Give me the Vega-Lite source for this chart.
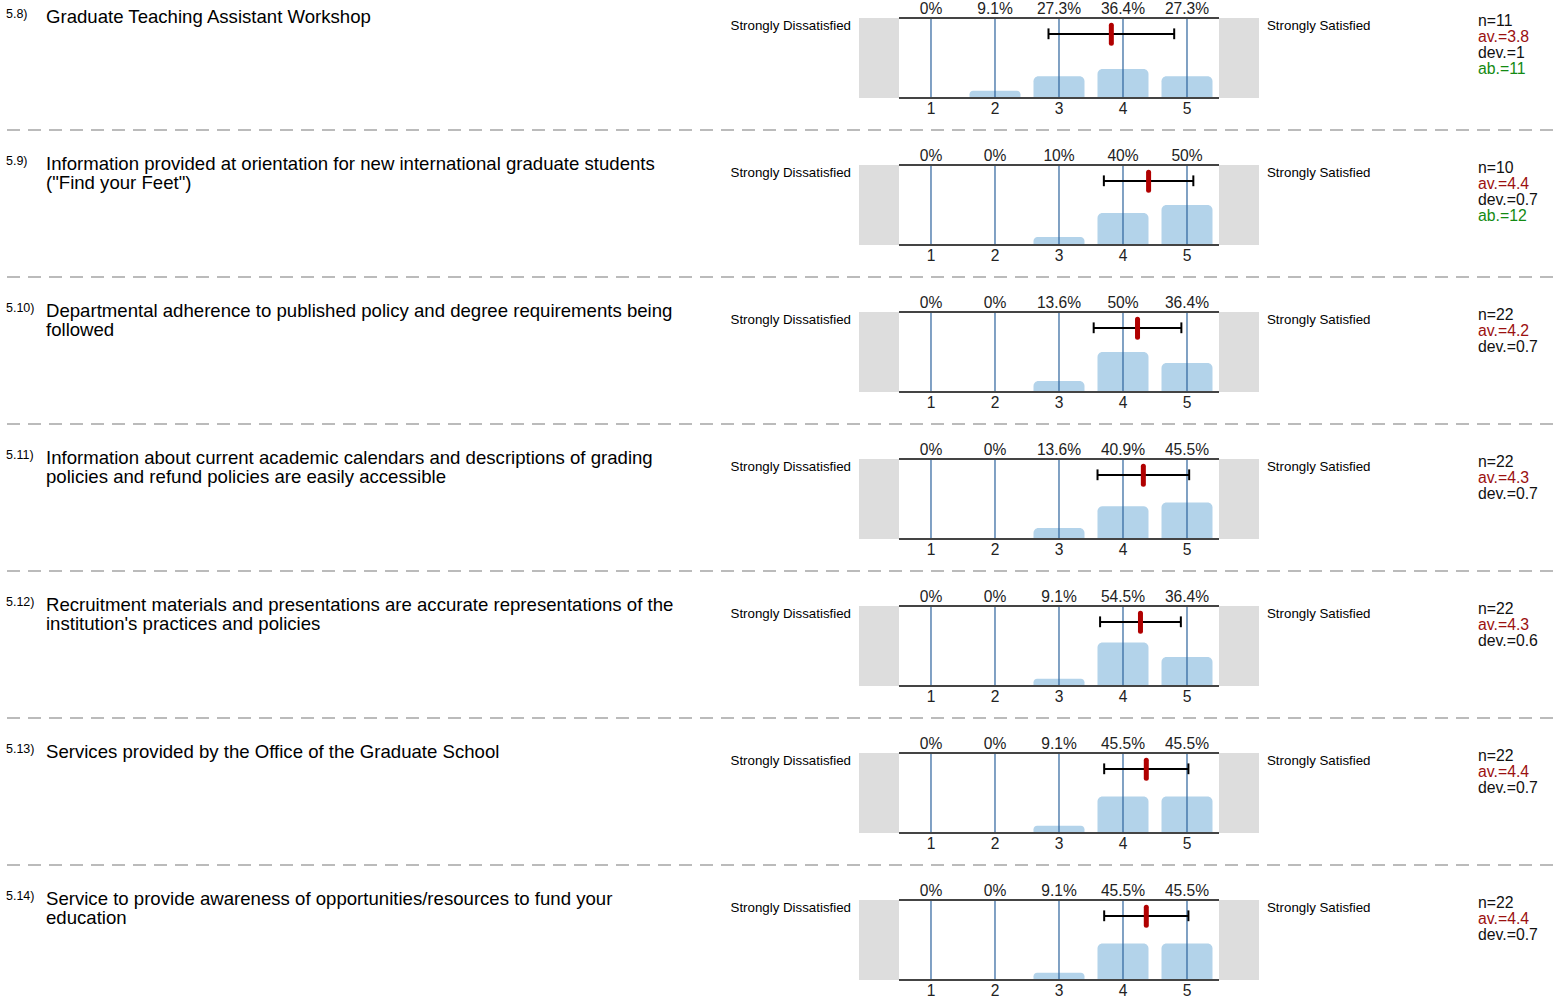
{
  "$schema": "https://vega.github.io/schema/vega-lite/v6.json",
  "padding": 0,
  "bounds": "flush",
  "background": "white",
  "config": {
    "view": {"stroke": null},
    "facet": {"spacing": 0},
    "text": {"font": "Liberation Sans", "color": "#000000"}
  },
  "data": {
    "values": [
      {"r": 1, "kind": "q", "num": "5.8)", "question": ["Graduate Teaching Assistant Workshop"], "nlab": "n=11", "avlab": "av.=3.8", "devlab": "dev.=1", "ablab": "ab.=11", "av": 3.818, "lo": 2.836, "hi": 4.8},
      {"r": 1, "kind": "bar", "x": 1, "pct": 0, "lab": "0%"},
      {"r": 1, "kind": "bar", "x": 2, "pct": 9.1, "lab": "9.1%"},
      {"r": 1, "kind": "bar", "x": 3, "pct": 27.3, "lab": "27.3%"},
      {"r": 1, "kind": "bar", "x": 4, "pct": 36.4, "lab": "36.4%"},
      {"r": 1, "kind": "bar", "x": 5, "pct": 27.3, "lab": "27.3%"},

      {"r": 2, "kind": "q", "num": "5.9)", "question": ["Information provided at orientation for new international graduate students", "(\"Find your Feet\")"], "nlab": "n=10", "avlab": "av.=4.4", "devlab": "dev.=0.7", "ablab": "ab.=12", "av": 4.4, "lo": 3.701, "hi": 5.099},
      {"r": 2, "kind": "bar", "x": 1, "pct": 0, "lab": "0%"},
      {"r": 2, "kind": "bar", "x": 2, "pct": 0, "lab": "0%"},
      {"r": 2, "kind": "bar", "x": 3, "pct": 10, "lab": "10%"},
      {"r": 2, "kind": "bar", "x": 4, "pct": 40, "lab": "40%"},
      {"r": 2, "kind": "bar", "x": 5, "pct": 50, "lab": "50%"},

      {"r": 3, "kind": "q", "num": "5.10)", "question": ["Departmental adherence to published policy and degree requirements being", "followed"], "nlab": "n=22", "avlab": "av.=4.2", "devlab": "dev.=0.7", "ablab": "", "av": 4.227, "lo": 3.542, "hi": 4.912},
      {"r": 3, "kind": "bar", "x": 1, "pct": 0, "lab": "0%"},
      {"r": 3, "kind": "bar", "x": 2, "pct": 0, "lab": "0%"},
      {"r": 3, "kind": "bar", "x": 3, "pct": 13.6, "lab": "13.6%"},
      {"r": 3, "kind": "bar", "x": 4, "pct": 50, "lab": "50%"},
      {"r": 3, "kind": "bar", "x": 5, "pct": 36.4, "lab": "36.4%"},

      {"r": 4, "kind": "q", "num": "5.11)", "question": ["Information about current academic calendars and descriptions of grading", "policies and refund policies are easily accessible"], "nlab": "n=22", "avlab": "av.=4.3", "devlab": "dev.=0.7", "ablab": "", "av": 4.318, "lo": 3.602, "hi": 5.034},
      {"r": 4, "kind": "bar", "x": 1, "pct": 0, "lab": "0%"},
      {"r": 4, "kind": "bar", "x": 2, "pct": 0, "lab": "0%"},
      {"r": 4, "kind": "bar", "x": 3, "pct": 13.6, "lab": "13.6%"},
      {"r": 4, "kind": "bar", "x": 4, "pct": 40.9, "lab": "40.9%"},
      {"r": 4, "kind": "bar", "x": 5, "pct": 45.5, "lab": "45.5%"},

      {"r": 5, "kind": "q", "num": "5.12)", "question": ["Recruitment materials and presentations are accurate representations of the", "institution's practices and policies"], "nlab": "n=22", "avlab": "av.=4.3", "devlab": "dev.=0.6", "ablab": "", "av": 4.273, "lo": 3.642, "hi": 4.904},
      {"r": 5, "kind": "bar", "x": 1, "pct": 0, "lab": "0%"},
      {"r": 5, "kind": "bar", "x": 2, "pct": 0, "lab": "0%"},
      {"r": 5, "kind": "bar", "x": 3, "pct": 9.1, "lab": "9.1%"},
      {"r": 5, "kind": "bar", "x": 4, "pct": 54.5, "lab": "54.5%"},
      {"r": 5, "kind": "bar", "x": 5, "pct": 36.4, "lab": "36.4%"},

      {"r": 6, "kind": "q", "num": "5.13)", "question": ["Services provided by the Office of the Graduate School"], "nlab": "n=22", "avlab": "av.=4.4", "devlab": "dev.=0.7", "ablab": "", "av": 4.364, "lo": 3.706, "hi": 5.022},
      {"r": 6, "kind": "bar", "x": 1, "pct": 0, "lab": "0%"},
      {"r": 6, "kind": "bar", "x": 2, "pct": 0, "lab": "0%"},
      {"r": 6, "kind": "bar", "x": 3, "pct": 9.1, "lab": "9.1%"},
      {"r": 6, "kind": "bar", "x": 4, "pct": 45.5, "lab": "45.5%"},
      {"r": 6, "kind": "bar", "x": 5, "pct": 45.5, "lab": "45.5%"},

      {"r": 7, "kind": "q", "num": "5.14)", "question": ["Service to provide awareness of opportunities/resources to fund your", "education"], "nlab": "n=22", "avlab": "av.=4.4", "devlab": "dev.=0.7", "ablab": "", "av": 4.364, "lo": 3.706, "hi": 5.022},
      {"r": 7, "kind": "bar", "x": 1, "pct": 0, "lab": "0%"},
      {"r": 7, "kind": "bar", "x": 2, "pct": 0, "lab": "0%"},
      {"r": 7, "kind": "bar", "x": 3, "pct": 9.1, "lab": "9.1%"},
      {"r": 7, "kind": "bar", "x": 4, "pct": 45.5, "lab": "45.5%"},
      {"r": 7, "kind": "bar", "x": 5, "pct": 45.5, "lab": "45.5%"}
    ]
  },
  "facet": {"row": {"field": "r", "type": "ordinal", "title": null, "header": {"labels": false, "title": null}}},
  "spacing": 0,
  "spec": {
    "width": 1554,
    "height": 146.667,
    "layer": [
      {
        "transform": [{"filter": "datum.kind === 'q'"}],
        "mark": {"type": "rect", "color": "#dddddd"},
        "encoding": {
          "x": {"datum": -0.125, "type": "quantitative", "scale": {"domain": [-13.531, 10.75], "nice": false, "zero": false, "padding": 0}, "axis": null},
          "x2": {"datum": 0.5},
          "y": {"datum": 0, "type": "quantitative", "scale": {"domain": [-60.83, 122.5], "nice": false, "zero": false, "padding": 0}, "axis": null},
          "y2": {"datum": 100}
        }
      },
      {
        "transform": [{"filter": "datum.kind === 'q'"}],
        "mark": {"type": "rect", "color": "#dddddd"},
        "encoding": {
          "x": {"datum": 5.5, "type": "quantitative"},
          "x2": {"datum": 6.125},
          "y": {"datum": 0, "type": "quantitative"},
          "y2": {"datum": 100}
        }
      },
      {
        "transform": [{"filter": "datum.kind === 'bar' && datum.pct > 0"}],
        "mark": {"type": "bar", "color": "#b3d3ea", "size": 51, "cornerRadiusTopLeft": 5, "cornerRadiusTopRight": 5},
        "encoding": {
          "x": {"field": "x", "type": "quantitative"},
          "y": {"field": "pct", "type": "quantitative"},
          "y2": {"datum": 0}
        }
      },
      {
        "transform": [{"filter": "datum.kind === 'bar'"}],
        "mark": {"type": "rule", "color": "#2c629c", "strokeWidth": 1.2},
        "encoding": {
          "x": {"field": "x", "type": "quantitative"},
          "y": {"datum": 0, "type": "quantitative"},
          "y2": {"datum": 100}
        }
      },
      {
        "transform": [{"filter": "datum.kind === 'q'"}],
        "mark": {"type": "rule", "color": "#444444", "strokeWidth": 2},
        "encoding": {
          "x": {"datum": 0.5, "type": "quantitative"},
          "x2": {"datum": 5.5},
          "y": {"datum": 100, "type": "quantitative"}
        }
      },
      {
        "transform": [{"filter": "datum.kind === 'q'"}],
        "mark": {"type": "rule", "color": "#444444", "strokeWidth": 2},
        "encoding": {
          "x": {"datum": 0.5, "type": "quantitative"},
          "x2": {"datum": 5.5},
          "y": {"datum": 0, "type": "quantitative"}
        }
      },
      {
        "transform": [{"filter": "datum.kind === 'bar'"}],
        "mark": {"type": "text", "fontSize": 15.6, "align": "center", "baseline": "alphabetic", "color": "#222222"},
        "encoding": {
          "x": {"field": "x", "type": "quantitative"},
          "y": {"datum": 105.3, "type": "quantitative"},
          "text": {"field": "lab", "type": "nominal"}
        }
      },
      {
        "transform": [{"filter": "datum.kind === 'bar'"}],
        "mark": {"type": "text", "fontSize": 15.6, "align": "center", "baseline": "alphabetic", "color": "#222222"},
        "encoding": {
          "x": {"field": "x", "type": "quantitative"},
          "y": {"datum": -19.5, "type": "quantitative"},
          "text": {"field": "x", "type": "quantitative", "format": "d"}
        }
      },
      {
        "transform": [{"filter": "datum.kind === 'q'"}],
        "mark": {"type": "rule", "color": "#000000", "strokeWidth": 2},
        "encoding": {
          "x": {"field": "lo", "type": "quantitative"},
          "x2": {"field": "hi"},
          "y": {"datum": 80, "type": "quantitative"}
        }
      },
      {
        "transform": [{"filter": "datum.kind === 'q'"}],
        "mark": {"type": "rule", "color": "#000000", "strokeWidth": 2},
        "encoding": {
          "x": {"field": "lo", "type": "quantitative"},
          "y": {"datum": 87, "type": "quantitative"},
          "y2": {"datum": 73.5}
        }
      },
      {
        "transform": [{"filter": "datum.kind === 'q'"}],
        "mark": {"type": "rule", "color": "#000000", "strokeWidth": 2},
        "encoding": {
          "x": {"field": "hi", "type": "quantitative"},
          "y": {"datum": 87, "type": "quantitative"},
          "y2": {"datum": 73.5}
        }
      },
      {
        "transform": [{"filter": "datum.kind === 'q'"}],
        "mark": {"type": "rule", "color": "#b00000", "strokeWidth": 5, "strokeCap": "round"},
        "encoding": {
          "x": {"field": "av", "type": "quantitative"},
          "y": {"datum": 91, "type": "quantitative"},
          "y2": {"datum": 68.5}
        }
      },
      {
        "transform": [{"filter": "datum.kind === 'q'"}],
        "mark": {"type": "text", "fontSize": 12.5, "align": "left", "baseline": "alphabetic"},
        "encoding": {
          "x": {"datum": -13.453, "type": "quantitative"},
          "y": {"datum": 100, "type": "quantitative"},
          "text": {"field": "num", "type": "nominal"}
        }
      },
      {
        "transform": [{"filter": "datum.kind === 'q'"}],
        "mark": {"type": "text", "fontSize": 18.6, "lineHeight": 19, "align": "left", "baseline": "alphabetic"},
        "encoding": {
          "x": {"datum": -12.828, "type": "quantitative"},
          "y": {"datum": 93.5, "type": "quantitative"},
          "text": {"field": "question", "type": "nominal"}
        }
      },
      {
        "transform": [{"filter": "datum.kind === 'q'"}],
        "mark": {"type": "text", "fontSize": 13.3, "align": "right", "baseline": "alphabetic"},
        "encoding": {
          "x": {"datum": -0.25, "type": "quantitative"},
          "y": {"datum": 85, "type": "quantitative"},
          "text": {"value": "Strongly Dissatisfied"}
        }
      },
      {
        "transform": [{"filter": "datum.kind === 'q'"}],
        "mark": {"type": "text", "fontSize": 13.3, "align": "left", "baseline": "alphabetic"},
        "encoding": {
          "x": {"datum": 6.25, "type": "quantitative"},
          "y": {"datum": 85, "type": "quantitative"},
          "text": {"value": "Strongly Satisfied"}
        }
      },
      {
        "transform": [{"filter": "datum.kind === 'q'"}],
        "mark": {"type": "text", "fontSize": 15.8, "align": "left", "baseline": "alphabetic", "color": "#111111"},
        "encoding": {
          "x": {"datum": 9.547, "type": "quantitative"},
          "y": {"datum": 90, "type": "quantitative"},
          "text": {"field": "nlab", "type": "nominal"}
        }
      },
      {
        "transform": [{"filter": "datum.kind === 'q'"}],
        "mark": {"type": "text", "fontSize": 15.8, "align": "left", "baseline": "alphabetic", "color": "#9b1010"},
        "encoding": {
          "x": {"datum": 9.547, "type": "quantitative"},
          "y": {"datum": 70, "type": "quantitative"},
          "text": {"field": "avlab", "type": "nominal"}
        }
      },
      {
        "transform": [{"filter": "datum.kind === 'q'"}],
        "mark": {"type": "text", "fontSize": 15.8, "align": "left", "baseline": "alphabetic", "color": "#111111"},
        "encoding": {
          "x": {"datum": 9.547, "type": "quantitative"},
          "y": {"datum": 50, "type": "quantitative"},
          "text": {"field": "devlab", "type": "nominal"}
        }
      },
      {
        "transform": [{"filter": "datum.kind === 'q' && datum.ablab !== ''"}],
        "mark": {"type": "text", "fontSize": 15.8, "align": "left", "baseline": "alphabetic", "color": "#138a13"},
        "encoding": {
          "x": {"datum": 9.547, "type": "quantitative"},
          "y": {"datum": 30, "type": "quantitative"},
          "text": {"field": "ablab", "type": "nominal"}
        }
      },
      {
        "transform": [{"filter": "datum.kind === 'q'"}],
        "mark": {"type": "rule", "color": "#bbbbbb", "strokeWidth": 2, "strokeDash": [13, 8], "strokeDashOffset": 15},
        "encoding": {
          "x": {"datum": -13.531, "type": "quantitative"},
          "x2": {"datum": 10.75},
          "y": {"datum": -40, "type": "quantitative"}
        }
      }
    ]
  }
}
